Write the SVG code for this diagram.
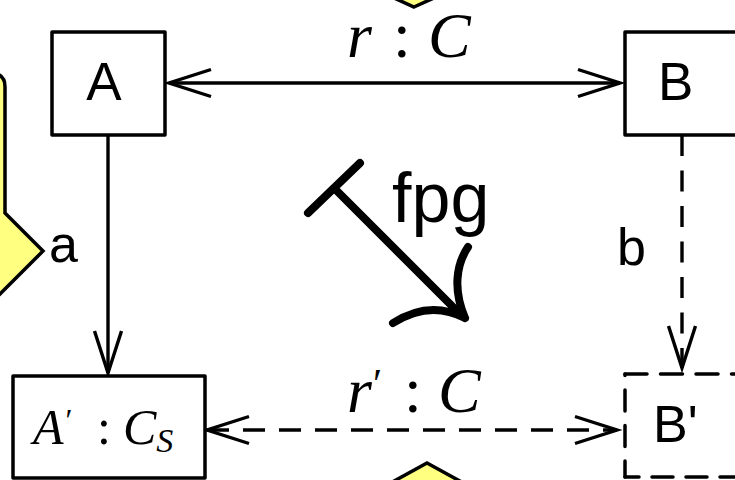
<svg xmlns="http://www.w3.org/2000/svg" width="735" height="480" viewBox="0 0 735 480">
<style>
.box{fill:#fff;stroke:#000;stroke-width:3.5;stroke-linejoin:round}
.dbox{fill:none;stroke:#000;stroke-width:3.5;stroke-linecap:round}
.edge{fill:none;stroke:#000;stroke-width:3.4}
.dash{stroke-dasharray:21 14.5}
.lbl{font-family:"Liberation Sans",Arial,sans-serif;fill:#000}
.math{font-family:"Liberation Serif","Times New Roman",serif;font-style:italic;fill:#000}
.up{font-family:"Liberation Serif","Times New Roman",serif;fill:#000}
.yel{fill:#ffff80;stroke:#000;stroke-width:3.5;stroke-linejoin:miter}
.fpg{fill:none;stroke:#000;stroke-width:8;stroke-linecap:round}
</style>
<defs>
<marker id="v" viewBox="-46 -17 50 34" markerUnits="userSpaceOnUse" markerWidth="50" markerHeight="34" refX="0" refY="0" orient="auto-start-reverse" overflow="visible">
<path d="M -42 -13.5 L 0 0 L -42 13.5" fill="none" stroke="#000" stroke-width="3.4"/>
</marker>
</defs>
<g id="decor">
<path class="yel" d="M -40 73 L -9 73 Q 5 73 5 87 L 5 213 L 43 251 L -6 300 L -40 300 Z"/>
<polygon class="yel" points="414,7 456,-12 414,-31 372,-12"/>
<polygon class="yel" points="427,463 478,491 427,519 376,491"/>
</g>
<g id="connectors">
<line class="edge" x1="169" y1="83" x2="620" y2="83" marker-start="url(#v)" marker-end="url(#v)"/>
<line class="edge" x1="108" y1="135" x2="108" y2="373" marker-end="url(#v)"/>
<line class="edge dash" x1="682" y1="135" x2="682" y2="368" marker-end="url(#v)"/>
<line class="edge" x1="207" y1="430" x2="617" y2="430" style="stroke-dasharray:22 14" marker-start="url(#v)" marker-end="url(#v)"/>
<text class="math" x="347" y="57" font-size="64">r</text>
<text class="up" x="402" y="57" font-size="64" text-anchor="middle">:</text>
<text class="math" x="428" y="57" font-size="64">C</text>
<text class="math" x="347" y="412" font-size="64">r<tspan font-style="normal" font-size="42" dx="1" dy="-14">′</tspan></text>
<text class="up" x="413" y="412" font-size="64" text-anchor="middle">:</text>
<text class="math" x="438" y="412" font-size="64">C</text>
<text class="lbl" x="49" y="262" font-size="52">a</text>
<text class="lbl" x="617" y="265" font-size="52">b</text>
</g>
<g id="fpg">
<path class="fpg" d="M 308 213 L 360 163 M 334 188 L 463 317 M 393 323 C 415 309 440 305 465 318 M 468 247 C 456 265 453 290 465 318"/>
<text class="lbl" x="392" y="222" font-size="70">fpg</text>
</g>
<g id="A">
<rect class="box" x="52" y="32" width="113" height="103"/>
<text class="lbl" x="104" y="100" font-size="53" text-anchor="middle">A</text>
</g>
<g id="B">
<rect class="box" x="625" y="32" width="113" height="103"/>
<text class="lbl" x="658" y="100" font-size="53">B</text>
</g>
<g id="A2">
<rect class="box" x="13" y="376" width="192" height="102"/>
<text class="math" x="33" y="444" font-size="50">A<tspan font-style="normal" font-size="32" dx="2" dy="-13">′</tspan></text>
<text class="up" x="104" y="444" font-size="50" text-anchor="middle">:</text>
<text class="math" x="123" y="444" font-size="50">C<tspan font-size="34" dy="8">S</tspan></text>
</g>
<g id="B2">
<path class="dbox" d="M 625 374 L 740 374" style="stroke-dasharray:22 13.5"/>
<path class="dbox" d="M 625 374 L 625 477" style="stroke-dasharray:21 14.5;stroke-dashoffset:19.5"/>
<path class="dbox" d="M 625 477 L 740 477" style="stroke-dasharray:21 13;stroke-dashoffset:7"/>
<text class="lbl" x="653" y="442" font-size="52">B'</text>
</g>
</svg>
